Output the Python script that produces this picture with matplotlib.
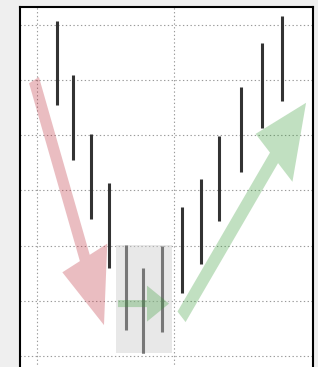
"""
V-shaped reversal sketch: high-low bars, a shaded base and three arrows.
"""

import matplotlib
matplotlib.use("Agg")
import matplotlib.pyplot as plt
from matplotlib.patches import FancyArrow, Rectangle
from matplotlib.transforms import Affine2D

# bar data (x position, high, low)
bar_x = [1.46, 2.63, 3.91, 5.26, 6.5, 7.74, 9.09, 10.58, 11.97, 13.28, 14.89, 16.42, 17.88]
bar_high = [6.07, 5.09, 4.02, 3.14, 2.01, 1.60, 1.99, 2.70, 3.21, 3.99, 4.88, 5.67, 6.16]
bar_low = [4.55, 3.55, 2.48, 1.60, 0.47, 0.05, 0.44, 1.14, 1.67, 2.45, 3.34, 4.13, 4.62]

# bars that make the base (shaded box)
base_idx = [4, 5, 6]

# arrows: (start, end) in data units
down_arrow = ((-0.22, 5.0), (4.89, 0.56))
side_arrow = ((5.91, 0.95), (9.64, 0.95))
up_arrow = ((10.55, 0.71), (19.64, 4.59))

grid_x = [0, 10]
grid_y = [0, 1, 2, 3, 4, 5, 6]

# the arrows were drawn in a space where x is squashed
SQUASH = 0.669


def draw_arrow(ax, start, end, tail_w, head_w, head_l, color, alpha):
    """
    Draw a filled arrow between two data points.

    :param ax: axes to draw on.
    :param start: tail point in data units.
    :param end: tip point in data units.
    :return: None.
    """
    squash = Affine2D().scale(1 / SQUASH, 1)
    p0 = squash.transform(ax.transData.transform(start))
    p1 = squash.transform(ax.transData.transform(end))
    arrow = FancyArrow(p0[0], p0[1], p1[0] - p0[0], p1[1] - p0[1],
                       width=tail_w, head_width=head_w, head_length=head_l,
                       length_includes_head=True, transform=squash.inverted(),
                       facecolor=color, edgecolor="none", alpha=alpha, zorder=4)
    ax.add_patch(arrow)


fig = plt.figure(figsize=(3.18, 3.67), dpi=100)
fig.patch.set_facecolor("#efefef")
ax = fig.add_axes([20 / 318, -13 / 367, 293 / 318, 373 / 367])
ax.set_facecolor("white")
ax.set_xlim(-1.241, 20.146)
ax.set_ylim(-0.435, 6.326)

ax.set_xticks(grid_x)
ax.set_yticks(grid_y)
ax.tick_params(length=0, labelbottom=False, labelleft=False)
ax.grid(True, color="#9a9a9a", linestyle=(0, (1.2, 2.2)), linewidth=0.8)
ax.set_axisbelow(True)
for side in ["left", "top", "right"]:
    ax.spines[side].set_linewidth(1.5)
    ax.spines[side].set_color("black")
ax.spines["bottom"].set_visible(False)

ax.vlines(bar_x, bar_low, bar_high, colors="#333333", linewidth=2.2,
          capstyle="butt", zorder=2)

# shaded base box around the bottom bars
pad = 0.75
bx0 = min(bar_x[i] for i in base_idx) - pad
bx1 = max(bar_x[i] for i in base_idx) + pad
by0 = min(bar_low[i] for i in base_idx)
by1 = max(bar_high[i] for i in base_idx)
ax.add_patch(Rectangle((bx0, by0), bx1 - bx0, by1 - by0, facecolor="#cccccc",
                       edgecolor="none", alpha=0.45, zorder=3))

draw_arrow(ax, *down_arrow, tail_w=16, head_w=73, head_l=73,
           color=(0.75, 0.2, 0.25), alpha=0.32)
draw_arrow(ax, *side_arrow, tail_w=7, head_w=36, head_l=33,
           color=(0.2, 0.6, 0.2), alpha=0.3)
draw_arrow(ax, *up_arrow, tail_w=16, head_w=73, head_l=73,
           color=(0.2, 0.6, 0.2), alpha=0.3)

fig.savefig("out.png", dpi=100, facecolor=fig.get_facecolor())
